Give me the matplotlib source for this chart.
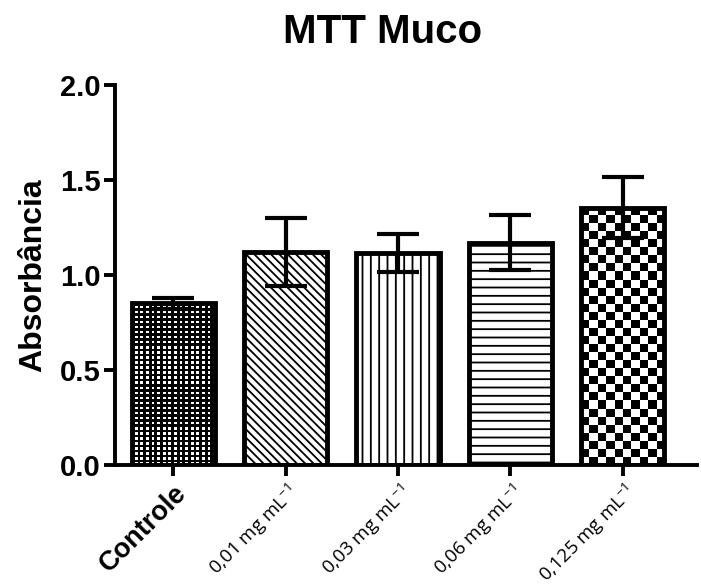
import numpy as np
import matplotlib.pyplot as plt

plt.rcParams['font.family'] = ['Liberation Sans', 'DejaVu Sans']
plt.rcParams['hatch.linewidth'] = 1.3
plt.rcParams['mathtext.fontset'] = 'custom'
plt.rcParams['mathtext.rm'] = 'Open Sans'

# data
groups = ["Controle", "0,01 mg mL$^{-1}$", "0,03 mg mL$^{-1}$",
          "0,06 mg mL$^{-1}$", "0,125 mg mL$^{-1}$"]
means = [0.85, 1.12, 1.115, 1.17, 1.355]
sem = [0.03, 0.18, 0.10, 0.145, 0.16]
hatches = [None, "\\\\\\\\", "||", "--", None]

fig = plt.figure(figsize=(7.01, 5.87), dpi=100)
ax = fig.add_axes([0.164, 0.208, 0.830, 0.647])

x = np.arange(len(groups))
bars = ax.bar(x, means, width=0.74, color="white", edgecolor="black",
              linewidth=3.5, zorder=2)
for b, h in zip(bars, hatches):
    if h:
        b.set_hatch(h)


def fill_pattern(bar, pattern):
    # image pattern clipped to the bar rectangle
    bx, by = bar.get_x(), bar.get_y()
    bw, bh = bar.get_width(), bar.get_height()
    im = ax.imshow(pattern, cmap="gray", vmin=0, vmax=1,
                   extent=(bx, bx + bw, by, by + bh),
                   aspect="auto", interpolation="nearest", zorder=2.5)
    im.set_clip_path(bar)
    bar.set_zorder(3)
    bar.set_facecolor("none")


# fine white dots on black for the control
ii, jj = np.indices((64, 30))
dots = ((ii % 2 == 1) & (jj % 2 == 1)).astype(float)
fill_pattern(bars[0], dots)

# checkerboard for the last bar
checker = (np.indices((32, 10)).sum(axis=0) % 2).astype(float)
fill_pattern(bars[-1], checker)

ax.errorbar(x, means, yerr=sem, fmt="none", ecolor="black", elinewidth=3,
            capsize=15, capthick=3, zorder=4)

ax.set_xlim(-0.52, 4.66)
ax.set_ylim(0, 2.0)
ax.set_yticks([0.0, 0.5, 1.0, 1.5, 2.0])
ax.set_yticklabels(["0.0", "0.5", "1.0", "1.5", "2.0"])
ax.set_xticks(x)
ax.set_xticklabels(groups, rotation=45, ha="right", rotation_mode="anchor")
for i, lbl in enumerate(ax.get_xticklabels()):
    if i == 0:
        lbl.set_fontsize(19.5)
        lbl.set_fontweight("bold")
    else:
        lbl.set_fontsize(13.5)
        lbl.set_family(["Open Sans", "DejaVu Sans"])

for s in ["top", "right"]:
    ax.spines[s].set_visible(False)
for s in ["left", "bottom"]:
    ax.spines[s].set_linewidth(2.8)

ax.tick_params(axis="both", width=2.8, length=8, direction="out")
ax.tick_params(axis="y", labelsize=21, pad=2)
ax.tick_params(axis="x", pad=3)
for lbl in ax.get_yticklabels():
    lbl.set_fontweight("bold")

ax.set_ylabel("Absorbância", fontsize=23, fontweight="bold", labelpad=9)
ax.set_title("MTT Muco", fontsize=29, fontweight="bold", pad=30, x=0.46)

fig.savefig("out.png", dpi=100)
